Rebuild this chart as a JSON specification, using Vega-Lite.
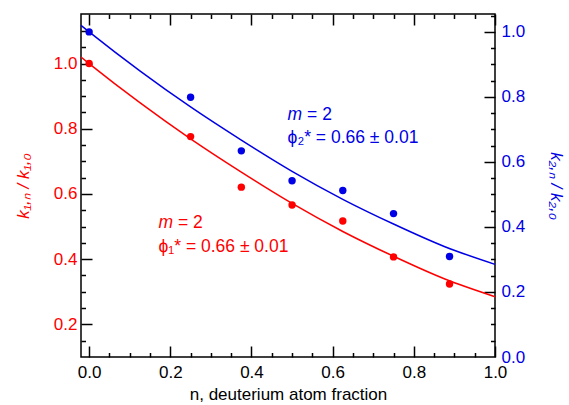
{
  "$schema": "https://vega.github.io/schema/vega-lite/v6.json",
  "width": 414,
  "height": 343,
  "autosize": {"type": "none"},
  "padding": {"left": 81, "top": 14, "right": 74, "bottom": 48},
  "background": "white",
  "datasets": {
    "fit": [
      {"n": -0.02, "k": 1.02},
      {"n": 0.0, "k": 1.0},
      {"n": 0.125, "k": 0.88},
      {"n": 0.25, "k": 0.769},
      {"n": 0.375, "k": 0.667},
      {"n": 0.5, "k": 0.571},
      {"n": 0.625, "k": 0.485},
      {"n": 0.75, "k": 0.409},
      {"n": 0.875, "k": 0.34},
      {"n": 1.0, "k": 0.285}
    ],
    "red": [
      {"n": 0.0, "k": 1.0},
      {"n": 0.25, "k": 0.776},
      {"n": 0.375, "k": 0.621},
      {"n": 0.5, "k": 0.566},
      {"n": 0.625, "k": 0.517},
      {"n": 0.75, "k": 0.407},
      {"n": 0.888, "k": 0.324}
    ],
    "blue": [
      {"n": 0.0, "k": 1.0},
      {"n": 0.25, "k": 0.799},
      {"n": 0.375, "k": 0.634},
      {"n": 0.5, "k": 0.542},
      {"n": 0.625, "k": 0.512},
      {"n": 0.75, "k": 0.441},
      {"n": 0.888, "k": 0.309}
    ],
    "mred": [{"n": 0.171, "k": 0.496, "text": "m"}],
    "mblue": [{"n": 0.489, "k": 0.729, "text": "m"}],
    "eq": [
      {"n": 0.171, "k": 0.496, "text": "= 2", "series": "k1"},
      {"n": 0.489, "k": 0.827, "text": "= 2", "series": "k2"}
    ],
    "phi": [
      {"n": 0.171, "k": 0.422, "text": "ϕ₁* = 0.66 ± 0.01", "series": "k1"},
      {"n": 0.489, "k": 0.757, "text": "ϕ₂* = 0.66 ± 0.01", "series": "k2"}
    ]
  },
  "layer": [
    {
      "data": {"name": "fit"},
      "mark": {"type": "line", "color": "#ff0000", "strokeWidth": 1.5, "interpolate": "monotone"},
      "encoding": {
        "x": {"field": "n", "type": "quantitative",
          "scale": {"domain": [-0.02, 1.0], "nice": false, "zero": false},
          "axis": {"orient": "bottom", "values": [0, 0.2, 0.4, 0.6, 0.8, 1.0], "format": ".1f", "ticks": false, "labelPadding": 7, "labelFlush": false, "title": "n, deuterium atom fraction", "titlePadding": 6, "labelColor": "black", "titleColor": "black"}},
        "y": {"field": "k", "type": "quantitative",
          "scale": {"domain": [0.1, 1.152], "nice": false, "zero": false},
          "axis": {"orient": "left", "values": [0.2, 0.4, 0.6, 0.8, 1.0], "format": ".1f", "ticks": false, "labelPadding": 4, "labelColor": "#ff0000", "title": "k₁,ₙ / k₁,₀", "titleColor": "#ff0000", "titleFontStyle": "italic", "titlePadding": 21}}
      }
    },
    {
      "data": {"name": "red"},
      "mark": {"type": "circle", "color": "#ff0000", "opacity": 1, "size": 55},
      "encoding": {
        "x": {"field": "n", "type": "quantitative",
          "scale": {"domain": [-0.02, 1.0], "nice": false, "zero": false},
          "axis": {"orient": "bottom", "labels": false, "title": null,
            "values": [0, 0.2, 0.4, 0.6, 0.8, 1.0], "tickSize": -11}},
        "y": {"field": "k", "type": "quantitative",
          "scale": {"domain": [0.1, 1.152], "nice": false, "zero": false},
          "axis": {"orient": "left", "labels": false, "title": null,
            "values": [0.2, 0.4, 0.6, 0.8, 1.0], "tickSize": -11}}
      }
    },
    {
      "data": {"name": "mred"},
      "mark": {"type": "text", "align": "left", "baseline": "alphabetic", "fontSize": 17.5, "fontStyle": "italic", "font": "Liberation Sans", "color": "#ff0000"},
      "encoding": {
        "x": {"field": "n", "type": "quantitative",
          "scale": {"domain": [-0.02, 1.0], "nice": false, "zero": false},
          "axis": {"orient": "bottom", "labels": false, "title": null,
            "values": [0.05, 0.1, 0.15, 0.25, 0.3, 0.35, 0.45, 0.5, 0.55, 0.65, 0.7, 0.75, 0.85, 0.9, 0.95], "tickSize": -4.5}},
        "y": {"field": "k", "type": "quantitative",
          "scale": {"domain": [0.1, 1.152], "nice": false, "zero": false},
          "axis": {"orient": "left", "labels": false, "title": null,
            "values": [0.15, 0.25, 0.3, 0.35, 0.45, 0.5, 0.55, 0.65, 0.7, 0.75, 0.85, 0.9, 0.95, 1.05, 1.1], "tickSize": -4.5}},
        "text": {"field": "text"}
      }
    },
    {
      "data": {"name": "fit"},
      "mark": {"type": "line", "color": "#0000e6", "strokeWidth": 1.5, "interpolate": "monotone"},
      "encoding": {
        "x": {"field": "n", "type": "quantitative",
          "scale": {"domain": [-0.02, 1.0], "nice": false, "zero": false},
          "axis": {"orient": "top", "labels": false, "title": null,
            "values": [0, 0.2, 0.4, 0.6, 0.8, 1.0], "tickSize": -11}},
        "y": {"field": "k", "type": "quantitative",
          "scale": {"domain": [0, 1.055], "nice": false, "zero": false},
          "axis": {"orient": "right", "values": [0, 0.2, 0.4, 0.6, 0.8, 1.0], "format": ".1f", "ticks": false, "labelPadding": 6, "labelColor": "#0000e6", "title": "k₂,ₙ / k₂,₀", "titleColor": "#0000e6", "titleFontStyle": "italic", "titlePadding": 22}}
      }
    },
    {
      "data": {"name": "blue"},
      "mark": {"type": "circle", "color": "#0000e6", "opacity": 1, "size": 55},
      "encoding": {
        "x": {"field": "n", "type": "quantitative",
          "scale": {"domain": [-0.02, 1.0], "nice": false, "zero": false},
          "axis": {"orient": "top", "labels": false, "title": null,
            "values": [0.05, 0.1, 0.15, 0.25, 0.3, 0.35, 0.45, 0.5, 0.55, 0.65, 0.7, 0.75, 0.85, 0.9, 0.95], "tickSize": -4.5}},
        "y": {"field": "k", "type": "quantitative",
          "scale": {"domain": [0, 1.055], "nice": false, "zero": false},
          "axis": {"orient": "right", "labels": false, "title": null,
            "values": [0.2, 0.4, 0.6, 0.8, 1.0], "tickSize": -11}}
      }
    },
    {
      "data": {"name": "mblue"},
      "mark": {"type": "text", "align": "left", "baseline": "alphabetic", "fontSize": 17.5, "fontStyle": "italic", "font": "Liberation Sans", "color": "#0000e6"},
      "encoding": {
        "x": {"field": "n", "type": "quantitative",
          "scale": {"domain": [-0.02, 1.0], "nice": false, "zero": false},
          "axis": null},
        "y": {"field": "k", "type": "quantitative",
          "scale": {"domain": [0, 1.055], "nice": false, "zero": false},
          "axis": {"orient": "right", "labels": false, "title": null,
            "values": [0.05, 0.1, 0.15, 0.25, 0.3, 0.35, 0.45, 0.5, 0.55, 0.65, 0.7, 0.75, 0.85, 0.9, 0.95, 1.05], "tickSize": -4.5}},
        "text": {"field": "text"}
      }
    },
    {
      "data": {"name": "eq"},
      "mark": {"type": "text", "align": "left", "baseline": "alphabetic", "fontSize": 17.5, "font": "Liberation Sans", "dx": 19.5},
      "encoding": {
        "x": {"field": "n", "type": "quantitative", "scale": {"domain": [-0.02, 1.0], "nice": false, "zero": false}, "axis": null},
        "y": {"field": "k", "type": "quantitative", "scale": {"domain": [0.1, 1.152], "nice": false, "zero": false}, "axis": null},
        "text": {"field": "text"},
        "color": {"field": "series", "type": "nominal", "scale": {"domain": ["k1", "k2"], "range": ["#ff0000", "#0000e6"]}, "legend": null}
      }
    },
    {
      "data": {"name": "phi"},
      "mark": {"type": "text", "align": "left", "baseline": "alphabetic", "fontSize": 17.5, "font": "Liberation Sans"},
      "encoding": {
        "x": {"field": "n", "type": "quantitative", "scale": {"domain": [-0.02, 1.0], "nice": false, "zero": false}, "axis": null},
        "y": {"field": "k", "type": "quantitative", "scale": {"domain": [0.1, 1.152], "nice": false, "zero": false}, "axis": null},
        "text": {"field": "text"},
        "color": {"field": "series", "type": "nominal", "scale": {"domain": ["k1", "k2"], "range": ["#ff0000", "#0000e6"]}, "legend": null}
      }
    }
  ],
  "resolve": {
    "scale": {"x": "shared", "y": "independent", "color": "shared"},
    "axis": {"x": "independent", "y": "independent"}
  },
  "config": {
    "view": {"stroke": "black", "strokeWidth": 1.5},
    "font": "Liberation Sans",
    "axis": {
      "grid": false,
      "domain": false,
      "labelFont": "Liberation Sans",
      "titleFont": "Liberation Sans",
      "labelFontSize": 17,
      "titleFontSize": 17,
      "titleFontWeight": "normal",
      "tickColor": "black",
      "tickWidth": 1.5,
      "labelColor": "black"
    }
  }
}
